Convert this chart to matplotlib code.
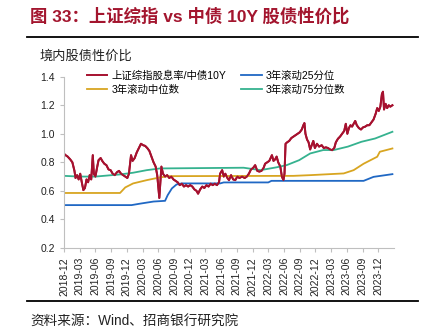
import numpy as np
import matplotlib
matplotlib.use("Agg")
import matplotlib.pyplot as plt
from matplotlib.lines import Line2D

plt.rcParams['font.family'] = ['Liberation Sans', 'Noto Sans CJK SC', 'DejaVu Sans']

# x values are months since 2018-12
tick_labels = ["2018-12", "2019-03", "2019-06", "2019-09", "2019-12", "2020-03", "2020-06",
               "2020-09", "2020-12", "2021-03", "2021-06", "2021-09", "2021-12", "2022-03",
               "2022-06", "2022-09", "2022-12", "2023-03", "2023-06", "2023-09", "2023-12"]

# 上证综指股息率/中债10Y
ratio_m = [0.0, 0.3, 0.7, 1.2, 1.6, 2.0, 2.2, 2.5, 2.8, 3.1, 3.4, 3.7, 4.0, 4.3, 4.6, 4.9, 5.2, 5.5,
           5.7, 6.0, 6.3, 6.6, 7.0, 7.3, 7.7, 8.1, 8.5, 8.9, 9.3, 9.7, 10.1, 10.5, 10.9, 11.3, 11.7,
           12.1, 12.4, 12.8, 13.1, 13.5, 13.9, 14.3, 14.7, 15.1, 15.5, 15.9, 16.3, 16.7, 17.1, 17.5,
           17.8, 18.2, 18.6, 18.9, 19.3, 19.7, 20.1, 20.5, 20.9, 21.3, 21.7, 22.1, 22.5, 22.9, 23.3,
           23.7, 24.1, 24.5, 24.9, 25.3, 25.6, 26.0, 26.4, 26.8, 27.2, 27.6, 28.0, 28.4, 28.8, 29.2,
           29.6, 29.8, 30.2, 30.5, 30.8, 31.2, 31.5, 31.9, 32.3, 32.7, 33.1, 33.5, 34.0, 34.5, 34.9,
           35.3, 35.7, 36.1, 36.5, 36.9, 37.3, 37.7, 38.1, 38.4, 38.8, 39.2, 39.7, 40.0, 40.3, 40.6,
           40.9, 41.3, 41.6, 41.9, 42.1, 42.3, 42.6, 43.0, 43.4, 43.8, 44.2, 44.6, 45.0, 45.4, 45.7,
           45.9, 46.1, 46.4, 46.7, 47.0, 47.3, 47.6, 47.9, 48.3, 48.7, 49.2, 49.6, 50.0, 50.4, 50.8,
           51.2, 51.6, 51.9, 52.3, 52.7, 53.1, 53.5, 53.8, 54.1, 54.4, 54.7, 55.0, 55.3, 55.6, 55.9,
           56.3, 56.7, 57.1, 57.5, 57.9, 58.3, 58.7, 59.1, 59.5, 59.8, 60.1, 60.4, 60.7, 60.9, 61.1,
           61.4, 61.7, 62.0, 62.3, 62.7]
ratio_v = [0.86, 0.85, 0.84, 0.82, 0.80, 0.74, 0.69, 0.71, 0.68, 0.72, 0.66, 0.605, 0.62, 0.68, 0.66,
           0.71, 0.68, 0.85, 0.72, 0.70, 0.76, 0.815, 0.83, 0.81, 0.79, 0.78, 0.75, 0.745, 0.72, 0.71,
           0.73, 0.74, 0.72, 0.71, 0.70, 0.69, 0.72, 0.85, 0.81, 0.83, 0.87, 0.90, 0.93, 0.92, 0.915,
           0.90, 0.88, 0.84, 0.80, 0.77, 0.71, 0.55, 0.77, 0.72, 0.70, 0.71, 0.69, 0.70, 0.68, 0.67,
           0.66, 0.64, 0.65, 0.63, 0.64, 0.63, 0.64, 0.63, 0.61, 0.60, 0.58, 0.61, 0.63, 0.62, 0.64,
           0.63, 0.65, 0.64, 0.65, 0.64, 0.66, 0.72, 0.745, 0.70, 0.72, 0.69, 0.675, 0.71, 0.68, 0.675,
           0.70, 0.69, 0.70, 0.69, 0.70, 0.72, 0.75, 0.76, 0.78, 0.74, 0.735, 0.74, 0.76, 0.79, 0.80,
           0.81, 0.85, 0.81, 0.82, 0.84, 0.80, 0.77, 0.70, 0.675, 0.72, 0.93, 0.94, 0.95, 0.97, 0.98,
           0.99, 1.00, 1.01, 1.03, 1.06, 1.075, 1.00, 0.96, 0.94, 0.89, 0.92, 0.95, 0.90, 0.93, 0.91,
           0.92, 0.90, 0.905, 0.90, 0.89, 0.885, 0.90, 0.94, 0.965, 0.98, 1.00, 1.02, 1.07, 1.00, 1.04,
           1.06, 1.05, 1.07, 1.09, 1.06, 1.04, 1.03, 1.045, 1.05, 1.06, 1.06, 1.08, 1.10, 1.14, 1.18,
           1.16, 1.19, 1.28, 1.295, 1.17, 1.21, 1.18, 1.20, 1.19, 1.20]

# 3年滚动25分位
p25_m = [0.0, 12.9, 14.5, 17.1, 19.3, 19.8, 20.6, 21.5, 22.5, 29.8, 30.5, 39.0, 39.6, 57.2, 59.1, 62.7]
p25_v = [0.50, 0.50, 0.51, 0.525, 0.53, 0.57, 0.617, 0.645, 0.652, 0.652, 0.659, 0.659, 0.67, 0.67, 0.698, 0.717]

# 3年滚动中位数
p50_m = [0.0, 10.7, 11.7, 13.2, 15.8, 18.3, 20.0, 43.8, 47.0, 53.4, 55.3, 57.2, 59.8, 60.3, 62.7]
p50_v = [0.585, 0.585, 0.624, 0.652, 0.675, 0.694, 0.703, 0.705, 0.71, 0.722, 0.745, 0.79, 0.839, 0.874, 0.897]

# 3年滚动75分位数
p75_m = [0.0, 3.0, 6.0, 10.7, 13.2, 15.8, 18.3, 34.3, 37.5, 40.6, 42.5, 44.9, 47.0, 49.5, 51.5, 54.2, 56.8, 59.4, 62.7]
p75_v = [0.705, 0.70, 0.70, 0.715, 0.727, 0.745, 0.757, 0.762, 0.745, 0.765, 0.78, 0.815, 0.862, 0.886, 0.886, 0.91, 0.944, 0.967, 1.014]

red = '#A6112F'
blue = '#2068C4'
gold = '#D8A521'
green = '#35B28F'

fig = plt.figure(figsize=(4.28, 3.35), dpi=100)
ax = fig.add_axes([0.1495, 0.26, 0.771, 0.511])

l1, = ax.plot(ratio_m, ratio_v, color=red, lw=1.4, label='上证综指股息率/中债10Y')
l3, = ax.plot(p50_m, p50_v, color=gold, lw=1.3, label='3年滚动中位数')
l4, = ax.plot(p75_m, p75_v, color=green, lw=1.3, label='3年滚动75分位数')
l2, = ax.plot(p25_m, p25_v, color=blue, lw=1.3, label='3年滚动25分位')
ax.plot(ratio_m, ratio_v, color=red, lw=1.4)

ax.set_xlim(0, 63)
ax.set_ylim(0.2, 1.4)
ax.set_yticks(np.arange(0.2, 1.41, 0.2))
ax.set_yticklabels([f"{v:.1f}" for v in np.arange(0.2, 1.41, 0.2)])
ax.set_xticks(np.arange(len(tick_labels)) * 3)
ax.set_xticklabels(tick_labels, rotation=90)
ax.tick_params(axis='both', labelsize=7.5, colors='#BFBFBF', labelcolor='#222222', length=3)
for s in ['top', 'right']:
    ax.spines[s].set_visible(False)
for s in ['left', 'bottom']:
    ax.spines[s].set_color('#BFBFBF')

ax.legend([l1, l3, l2, l4], [l1.get_label(), l3.get_label(), l2.get_label(), l4.get_label()],
          ncol=2, frameon=False, fontsize=7.5, loc='upper left',
          bbox_to_anchor=(0.19, 0.805), bbox_transform=fig.transFigure,
          handlelength=2.0, handletextpad=0.4, columnspacing=1.4, labelspacing=0.35, borderpad=0)

fig.text(0.07, 0.978, '图 33：上证综指 vs 中债 10Y 股债性价比', color='#A3152E',
         fontsize=12.5, fontweight='bold', va='top', ha='left')
fig.text(0.093, 0.83, '境内股债性价比', fontsize=9.5, color='#222222', va='center', ha='left')
fig.text(0.07, 0.038, '资料来源：Wind、招商银行研究院', fontsize=9.8, color='#222222', va='center', ha='left')

fig.add_artist(Line2D([0.063, 0.977], [0.8896, 0.8896], color='black', lw=1.3, transform=fig.transFigure))
fig.add_artist(Line2D([0.063, 0.977], [0.1015, 0.1015], color='black', lw=1.3, transform=fig.transFigure))

fig.savefig('out.png', dpi=100)
